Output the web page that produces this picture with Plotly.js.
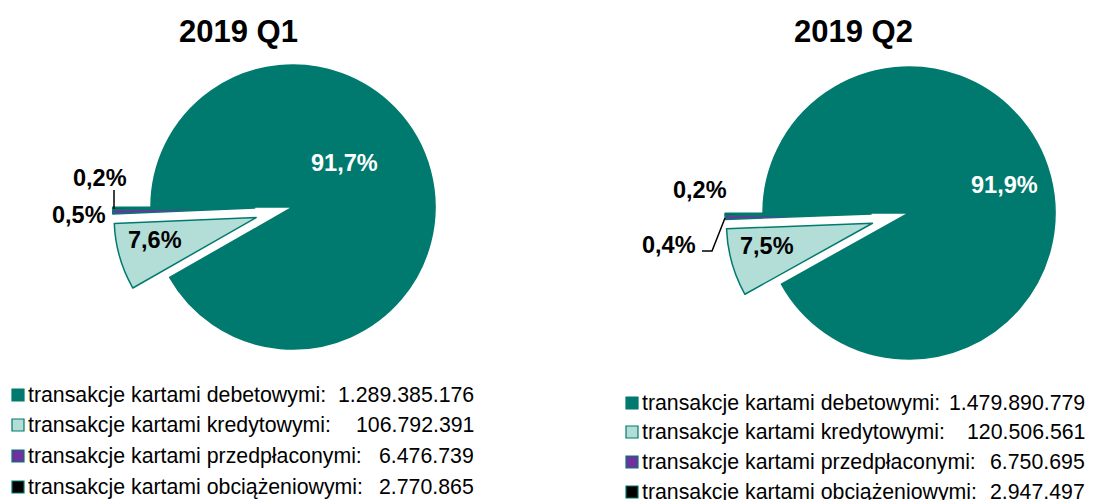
<!DOCTYPE html>
<html>
<head>
<meta charset="utf-8">
<script src="https://cdn.plot.ly/plotly-3.0.1.min.js"></script>
<style>html,body{margin:0;padding:0;background:#fff}#chart{width:1094px;height:500px}</style>
</head>
<body>
<div id="chart"></div>
<script>
// ---- data ----
const categories = [
  'transakcje kartami debetowymi:',
  'transakcje kartami kredytowymi:',
  'transakcje kartami przedpłaconymi:',
  'transakcje kartami obciążeniowymi:'
];
const periods = ['2019 Q1', '2019 Q2'];
const valuesQ1 = [1289385176, 106792391, 6476739, 2770865];
const valuesQ2 = [1479890779, 120506561, 6750695, 2947497];
const valueLabelsQ1 = ['1.289.385.176', '106.792.391', '6.476.739', '2.770.865'];
const valueLabelsQ2 = ['1.479.890.779', '120.506.561', '6.750.695', '2.947.497'];

// ---- styles ----
const TEAL = '#007A6E';
const colors = [TEAL, '#B3DDD7', '#7030A0', '#000000'];
const W = 1094, H = 500;
const px = x => x / W;
const py = y => 1 - y / H;
const FONT = 'Liberation Sans, Arial, sans-serif';

function pct(vals, i) {
  const s = vals.reduce((a, b) => a + b, 0);
  return (vals[i] / s * 100).toFixed(1).replace('.', ',') + '%';
}

function pieTrace(vals, cx, cy, r, pull) {
  const half = r * (1 + pull);
  return {
    type: 'pie',
    labels: categories,
    values: vals,
    sort: false,
    direction: 'clockwise',
    rotation: -90,
    pull: [0, pull, pull, pull],
    textinfo: 'none',
    hoverinfo: 'label+value+percent',
    showlegend: false,
    marker: { colors: colors, line: { color: TEAL, width: 1.5 } },
    domain: { x: [px(cx - half), px(cx + half)], y: [py(cy + half), py(cy - half)] }
  };
}

const data = [
  pieTrace(valuesQ1, 293, 207, 142, 0.27),
  pieTrace(valuesQ2, 909, 213, 146, 0.26)
];

const annotations = [];
const shapes = [];
function txt(x, y, text, size, color, anchor) {
  annotations.push({
    xref: 'paper', yref: 'paper', x: px(x), y: py(y), text: text, showarrow: false,
    xanchor: anchor || 'center', yanchor: 'middle',
    font: { family: FONT, size: size, color: color || '#000' }
  });
}
// titles
txt(238, 31, '<b>' + periods[0] + '</b>', 31);
txt(853, 31, '<b>' + periods[1] + '</b>', 31);

const LS = 23.5;
// slice labels Q1
txt(344, 163, '<b>' + pct(valuesQ1, 0) + '</b>', LS, '#fff');
txt(155, 240, '<b>' + pct(valuesQ1, 1) + '</b>', LS);
txt(79, 215, '<b>' + pct(valuesQ1, 2) + '</b>', LS);
txt(100, 178, '<b>' + pct(valuesQ1, 3) + '</b>', LS);
shapes.push({ type: 'line', xref: 'paper', yref: 'paper', x0: px(114), x1: px(114), y0: py(190), y1: py(209), line: { color: '#000', width: 1.5 } });

// slice labels Q2
txt(1004, 185, '<b>' + pct(valuesQ2, 0) + '</b>', LS, '#fff');
txt(767, 246, '<b>' + pct(valuesQ2, 1) + '</b>', LS);
txt(669, 245, '<b>' + pct(valuesQ2, 2) + '</b>', LS);
txt(700, 190, '<b>' + pct(valuesQ2, 3) + '</b>', LS);
shapes.push({ type: 'path', xref: 'paper', yref: 'paper',
  path: 'M' + px(702) + ',' + py(251) + ' L' + px(712) + ',' + py(251) + ' L' + px(725) + ',' + py(218),
  line: { color: '#000', width: 1.5 } });

// legends
function legend(x0, rows, valueLabels, rightX, size) {
  categories.forEach((c, i) => {
    const y = rows[i];
    shapes.push({ type: 'rect', xref: 'paper', yref: 'paper',
      x0: px(x0), x1: px(x0 + 12), y0: py(y + 6), y1: py(y - 6),
      fillcolor: colors[i], line: { color: TEAL, width: 1.2 } });
    txt(x0 + 14, y, c, size, '#000', 'left');
    txt(rightX, y, valueLabels[i], size, '#000', 'right');
  });
}
legend(12, [395, 425, 456, 487], valueLabelsQ1, 476, 21.3);
legend(626, [403, 432, 462, 492], valueLabelsQ2, 1087, 21.3);

const layout = {
  width: W, height: H,
  margin: { l: 0, r: 0, t: 0, b: 0 },
  paper_bgcolor: '#fff', plot_bgcolor: '#fff',
  showlegend: false,
  annotations: annotations,
  shapes: shapes,
  font: { family: FONT }
};
Plotly.newPlot('chart', data, layout, { displayModeBar: false, staticPlot: true });
</script>
</body>
</html>
